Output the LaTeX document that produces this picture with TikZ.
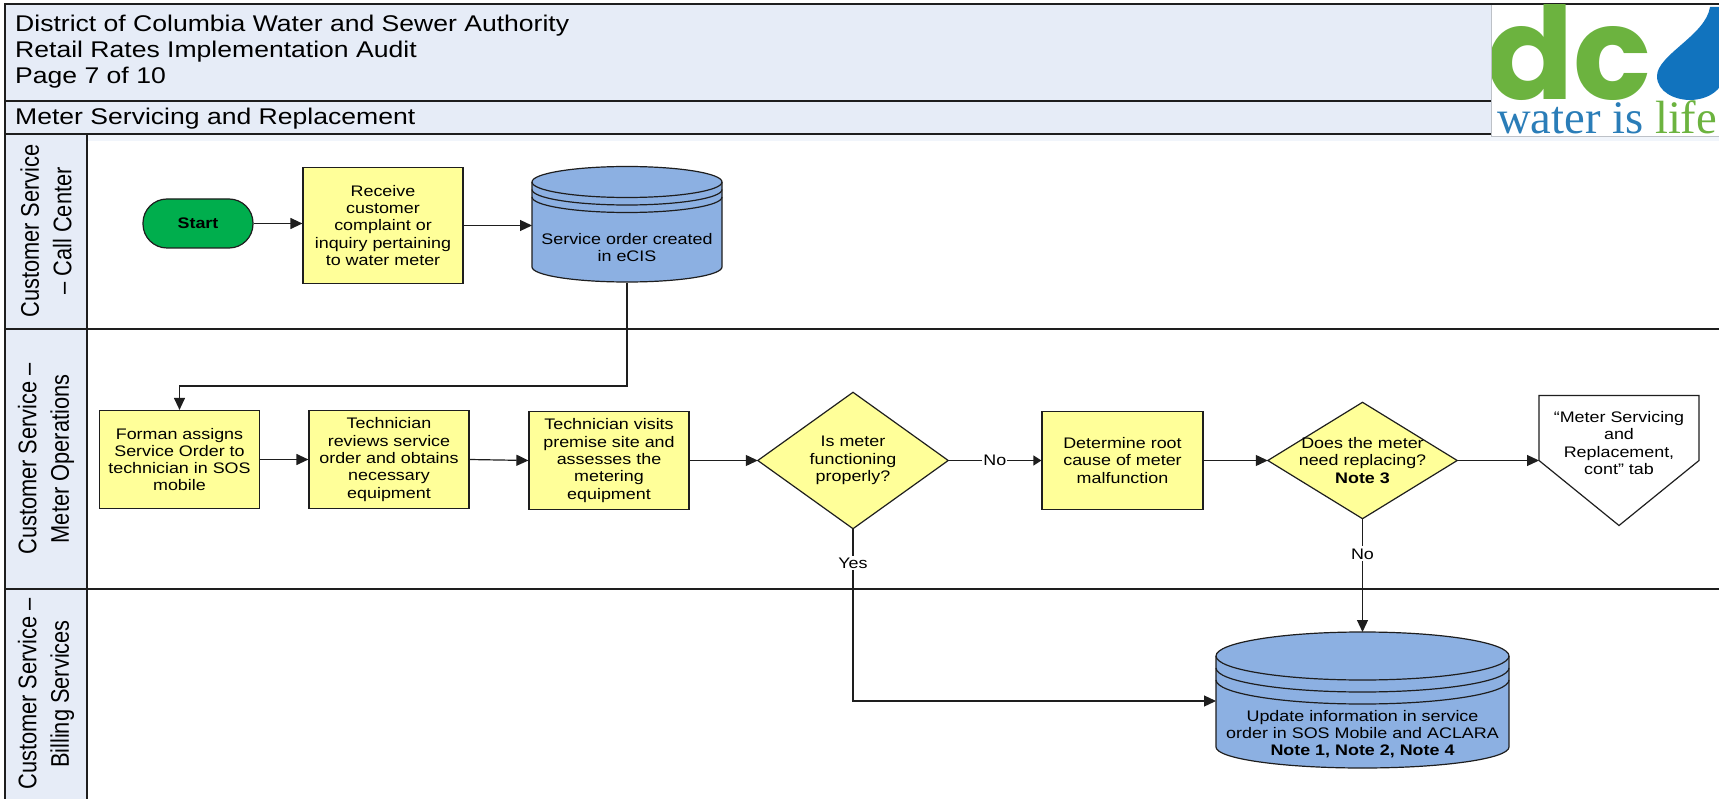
\documentclass[tikz,border=0pt]{standalone}
\usepackage{fontspec}
\setmainfont[FakeStretch=1.17]{Liberation Sans}
\newfontfamily\lanefont{Liberation Sans}
\newfontfamily\logofont{Poppins}
\newfontfamily\logoserif{Liberation Serif}
\usetikzlibrary{arrows.meta,backgrounds}
\definecolor{hdr}{HTML}{E6ECF7}
\definecolor{stepyellow}{HTML}{FFFF99}
\definecolor{dbblue}{HTML}{8CB0E2}
\definecolor{startgreen}{HTML}{00AE4D}
\definecolor{ink}{HTML}{1E1E1E}
\definecolor{logogreen}{HTML}{6CB33F}
\definecolor{logoblue}{HTML}{1173BE}
\definecolor{logotextblue}{HTML}{2A7DB8}
\tikzset{
  x=1pt,y=-1pt,
  frame/.style={draw=ink,line width=1.2pt},
  bodytext/.style={font=\fontsize{15.3}{17.3}\selectfont,align=center,text=black,inner sep=0pt},
  stepbox/.style={bodytext,draw=ink,line width=1.2pt,fill=stepyellow,inner sep=0pt},
  anchorbox/.style={inner sep=0pt,outer sep=0pt},
  flow/.style={draw=ink,line width=1.2pt,-{Triangle[length=12pt,width=11pt]}},
  shortflow/.style={draw=ink,line width=1.2pt,-{Triangle[length=8pt,width=10pt]}},
  edgelabel/.style={bodytext,fill=white,inner xsep=1pt,inner ysep=2pt},
  lanetext/.style={font=\lanefont\fontsize{21.8}{27.8}\selectfont,align=center,xscale=1.17,rotate=90,inner sep=0pt},
  titletext/.style={font=\fontsize{22.7}{26}\selectfont,align=left,anchor=north west,inner sep=0pt},
  outline/.style={draw=ink,line width=1.2pt},
}
\begin{document}
\begin{tikzpicture}
\useasboundingbox (0,0) rectangle (1719,799);
\begin{scope}[on background layer]
\fill[white] (0,0) rectangle (1719,799);
\end{scope}
% shadow and header
\fill[hdr!55] (5,134) rectangle (1719,141);
\fill[hdr] (5,4) rectangle (1491,134);
\fill[hdr] (5,134) rectangle (87,799);
% header lines
\draw[frame] (5,799) -- (5,4) -- (1719,4);
\draw[frame] (5,101) -- (1491,101);
\draw[frame] (5,134) -- (1491,134);
\draw[frame] (87,134) -- (87,799);
\draw[frame] (5,329) -- (1719,329);
\draw[frame] (5,589) -- (1719,589);
% titles
\node[titletext] (title) at (15,14.5) {District of Columbia Water and Sewer Authority\\Retail Rates Implementation Audit\\Page 7 of 10};
\node[titletext,anchor=west] (subtitle) at (15,119) {Meter Servicing and Replacement};
% lane labels
\node[lanetext] (lane1) at (46,231) {Customer Service\\– Call Center};
\node[lanetext] (lane2) at (46,459) {Customer Service –\\Meter Operations};
\node[lanetext] (lane3) at (46,694) {Customer Service –\\Billing Services};
% logo
\begin{scope}
\clip (1491,5) rectangle (1719,136);
\fill[white] (1491,5) rectangle (1719,136);
\node[anchor=base west,inner sep=0pt,text=logogreen,font=\logofont\bfseries\fontsize{129}{129}\selectfont] (logodc) at (1486,100) {dc};
\fill[logoblue] (1710,7) .. controls (1706,35) and (1657,55) .. (1657,76) .. controls (1657,92) and (1675,100) .. (1690,100) .. controls (1705,100) and (1725,92) .. (1725,70) -- (1725,7) -- cycle;
\node[anchor=base west,inner sep=0pt,font=\logoserif\fontsize{46.6}{46.6}\selectfont] (logotext) at (1497,134) {\textcolor{logotextblue}{water is} \textcolor{logogreen}{life}};
\end{scope}
\draw[hdr!60!gray,line width=.8pt] (1491,5) -- (1491,136) -- (1719,136);
% start
\node[bodytext,font=\fontsize{15.3}{17.3}\selectfont\bfseries,draw=ink,line width=1.2pt,fill=startgreen,rounded corners=24pt,minimum width=110pt,minimum height=49pt] (start) at (198,223.5) {Start};
% process boxes
\node[stepbox,minimum width=160pt,minimum height=116pt] (receive) at (383,225.5) {Receive\\customer\\complaint or\\inquiry pertaining\\to water meter};
\node[stepbox,minimum width=160pt,minimum height=98pt] (forman) at (179.5,459.5) {Forman assigns\\Service Order to\\technician in SOS\\mobile};
\node[stepbox,minimum width=160pt,minimum height=98pt] (review) at (389,459.5) {Technician\\reviews service\\order and obtains\\necessary\\equipment};
\node[stepbox,minimum width=160pt,minimum height=98pt] (visit) at (609,460.5) {Technician visits\\premise site and\\assesses the\\metering\\equipment};
\node[stepbox,minimum width=161pt,minimum height=98pt] (cause) at (1122.5,460.5) {Determine root\\cause of meter\\malfunction};
% diamonds
\node[bodytext,minimum width=190pt,minimum height=136pt] (dia1) at (853,460.5) {Is meter\\functioning\\properly?};
\node[bodytext,minimum width=189pt,minimum height=116pt] (dia2) at (1362.5,460.5) {Does the meter\\need replacing?\\\textbf{Note 3}};
\begin{scope}[on background layer]
\draw[outline,fill=stepyellow] (dia1.north) -- (dia1.east) -- (dia1.south) -- (dia1.west) -- cycle;
\draw[outline,fill=stepyellow] (dia2.north) -- (dia2.east) -- (dia2.south) -- (dia2.west) -- cycle;
\end{scope}
% off-page connector
\node[anchorbox,minimum width=160pt,minimum height=130pt] (tab) at (1619,460.5) {};
\draw[outline,fill=white] (tab.north west) -- (tab.north east) -- (tab.east) -- (tab.south) -- (tab.west) -- cycle;
\node[bodytext] (tabtext) at (1619,443) {“Meter Servicing\\and\\Replacement,\\cont” tab};
% cylinders
\node[anchorbox,minimum width=190pt,minimum height=115pt] (cyl1) at (627,225.5) {};
\draw[outline,fill=dbblue] (532,182) arc[start angle=180,end angle=360,x radius=95,y radius=15.5] -- (722,267) arc[start angle=360,end angle=180,x radius=95,y radius=-15] -- cycle;
\draw[outline] (532,182) arc[start angle=180,end angle=0,x radius=95,y radius=15.5];
\draw[outline] (532,189.5) arc[start angle=180,end angle=0,x radius=95,y radius=15.5];
\draw[outline] (532,197) arc[start angle=180,end angle=0,x radius=95,y radius=15.5];
\node[bodytext] (cyl1text) at (627,247.5) {Service order created\\in eCIS};
\node[anchorbox,minimum width=293pt,minimum height=136pt] (cyl2) at (1362.5,700) {};
\draw[outline,fill=dbblue] (1216,656) arc[start angle=180,end angle=360,x radius=146.5,y radius=24] -- (1509,747) arc[start angle=360,end angle=180,x radius=146.5,y radius=-21] -- cycle;
\draw[outline] (1216,656) arc[start angle=180,end angle=0,x radius=146.5,y radius=24];
\draw[outline] (1216,668) arc[start angle=180,end angle=0,x radius=146.5,y radius=24];
\draw[outline] (1216,680) arc[start angle=180,end angle=0,x radius=146.5,y radius=24];
\node[bodytext] (cyl2text) at (1362.5,734) {Update information in service\\order in SOS Mobile and ACLARA\\\textbf{Note 1, Note 2, Note 4}};
% connectors
\draw[flow] (start.east) -- (start.east-|receive.west);
\draw[flow] (receive.east) -- (receive.east-|cyl1.west);
\draw[flow] (cyl1.south) -- (cyl1.south|-0,386) -- (forman.north|-0,386) -- (forman.north);
\draw[flow] (forman.east) -- (review.west);
\draw[flow] (review.east) -- (visit.west);
\draw[flow] (visit.east) -- (dia1.west);
\draw[shortflow] (dia1.east) -- node[edgelabel] (lblno1) {No} (cause.west);
\draw[flow] (cause.east) -- (dia2.west);
\draw[flow] (dia2.east) -- (tab.west);
\coordinate (turn) at (dia1.south|-0,701);
\draw[flow] (dia1.south) -- node[edgelabel,pos=.2] (lblyes) {Yes} (turn) -- (turn-|cyl2.west);
\draw[flow] (dia2.south) -- node[edgelabel,pos=.31] (lblno2) {No} (cyl2.north);
\end{tikzpicture}
\end{document}
